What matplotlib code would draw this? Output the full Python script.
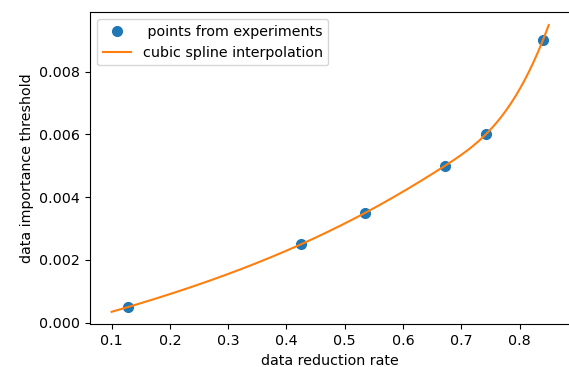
import matplotlib
matplotlib.use("Agg")
import matplotlib.pyplot as plt
import numpy as np

# measured (reduction rate, importance threshold) pairs
reduction_rate = [0.128, 0.425, 0.535, 0.672, 0.742, 0.84]
threshold = [0.0005, 0.0025, 0.0035, 0.005, 0.006, 0.009]
x_start, x_end = 0.1, 0.85


def not_a_knot_spline(x, y, xq):
    """cubic spline (not-a-knot ends), extrapolated past the end points"""
    x = np.asarray(x, float)
    y = np.asarray(y, float)
    n = len(x)
    h = np.diff(x)
    a = np.zeros((n, n))
    r = np.zeros(n)
    a[0, 0], a[0, 1], a[0, 2] = h[1], -(h[0] + h[1]), h[0]
    a[-1, -3], a[-1, -2], a[-1, -1] = h[-1], -(h[-2] + h[-1]), h[-2]
    for i in range(1, n - 1):
        a[i, i - 1] = h[i - 1]
        a[i, i] = 2 * (h[i - 1] + h[i])
        a[i, i + 1] = h[i]
        r[i] = 6 * ((y[i + 1] - y[i]) / h[i] - (y[i] - y[i - 1]) / h[i - 1])
    m = np.linalg.solve(a, r)

    idx = np.clip(np.searchsorted(x, xq) - 1, 0, n - 2)
    t = xq - x[idx]
    hi = h[idx]
    b = (y[idx + 1] - y[idx]) / hi - hi * (2 * m[idx] + m[idx + 1]) / 6
    return (y[idx] + b * t + m[idx] / 2 * t**2
            + (m[idx + 1] - m[idx]) / (6 * hi) * t**3)


xs = np.linspace(x_start, x_end, 200)
ys = not_a_knot_spline(reduction_rate, threshold, xs)

plt.rcParams["font.size"] = 10.3
fig = plt.figure(figsize=(5.69, 3.67), dpi=100)
ax = fig.add_axes([0.1578, 0.1163, 0.845, 0.852])

ax.plot(reduction_rate, threshold, "o", markersize=7,
        label=" points from experiments")
ax.plot(xs, ys, label="cubic spline interpolation")
ax.set_xlim(0.0625, 0.8875)
ax.set_ylim(-0.00005, 0.00991)
ax.set_xlabel("data reduction rate")
ax.set_ylabel("data importance threshold")
ax.legend(loc="upper left")

fig.savefig("out.png", dpi=100)
